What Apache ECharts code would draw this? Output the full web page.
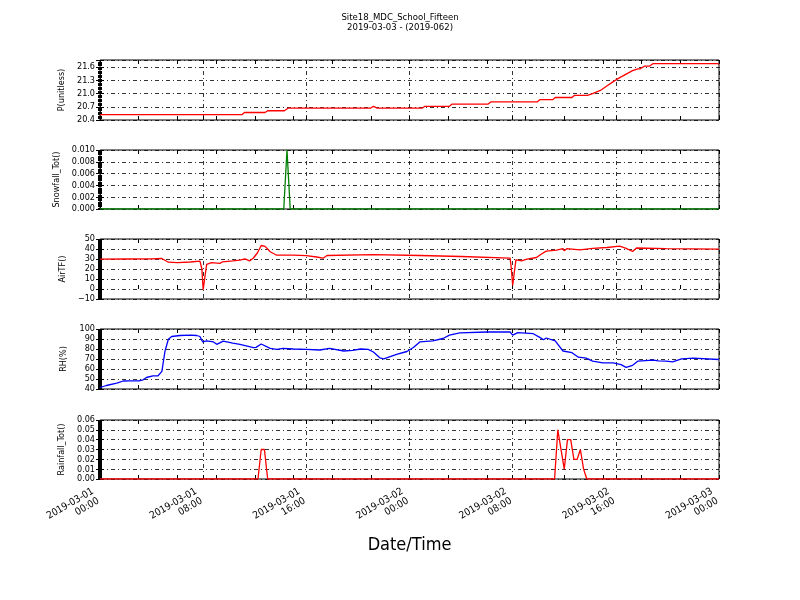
<!DOCTYPE html>
<html>
<head>
<meta charset="utf-8">
<script src="https://cdn.jsdelivr.net/npm/echarts@6/dist/echarts.min.js"></script>
<style>
  html, body { margin: 0; padding: 0; background: #fff; }
  #chart { width: 800px; height: 600px; }
</style>
</head>
<body>
<div id="chart"></div>
<script>
// hours since 2019-03-01 00:00
const xTickLabels = [
  "2019-03-01\n00:00", "2019-03-01\n08:00", "2019-03-01\n16:00",
  "2019-03-02\n00:00", "2019-03-02\n08:00", "2019-03-02\n16:00",
  "2019-03-03\n00:00"
];

const pData = [
  [0, 20.52], [11.0, 20.52], [11.2, 20.57], [12.8, 20.57], [13.0, 20.61], [14.3, 20.61],
  [14.6, 20.67], [21.0, 20.67], [21.2, 20.71], [21.5, 20.67], [25.0, 20.67], [25.2, 20.71],
  [27.1, 20.71], [27.3, 20.76], [30.1, 20.76], [30.3, 20.81], [33.9, 20.81], [34.1, 20.86],
  [35.1, 20.86], [35.3, 20.91], [36.6, 20.91], [36.8, 20.96], [37.8, 20.96], [38.2, 21.0],
  [38.8, 21.07], [39.3, 21.17], [39.8, 21.27], [40.3, 21.36], [40.8, 21.44], [41.3, 21.52],
  [41.7, 21.56], [41.9, 21.56], [42.2, 21.62], [42.6, 21.62], [42.9, 21.68], [47.9, 21.68],
  [48, 21.66]
];

const snowData = [[0, 0], [14.25, 0], [14.5, 0.01], [14.75, 0], [48, 0]];

const airData = [
  [0, 29.8], [2, 30], [4, 30.2], [4.8, 30.5], [5.3, 26.8], [6, 26.4], [7, 27], [7.75, 27.8],
  [7.9, 20], [8.0, -0.6], [8.27, 24.7], [8.65, 26.4], [9.3, 25.6], [9.5, 27.2], [10.3, 28.1],
  [10.85, 28.8], [11.24, 30.1], [11.6, 28.1], [11.9, 31], [12.2, 36], [12.5, 43.5], [12.8, 42.6],
  [13.2, 37.2], [13.7, 33.8], [15, 33.8], [16, 33.3], [16.8, 32], [17.3, 30.8], [17.6, 33.5],
  [21.2, 34.3], [24.8, 33.5], [28, 32.5], [31.8, 30.8], [31.9, 20], [32.0, 3.5], [32.25, 29.1],
  [32.7, 28.1], [33.1, 29.8], [33.85, 31.5], [34.2, 34.8], [34.6, 37.9], [35.4, 38.9],
  [35.9, 40.3], [36.0, 38.2], [36.2, 40.3], [37.2, 39.2], [38.2, 40.6], [39.3, 41.5],
  [40.3, 42.8], [40.8, 40.6], [41.3, 37.5], [41.6, 41.0], [43.9, 40.3], [48, 39.8]
];

const rhData = [
  [0, 41.5], [0.5, 43.5], [1.3, 45.8], [1.8, 48], [2.3, 48.1], [2.45, 49.2], [3.0, 48.1],
  [3.35, 49.2], [3.6, 51.5], [4.1, 53.2], [4.5, 53.2], [4.8, 57.6], [5.04, 77.9], [5.3, 89.8],
  [5.56, 92.5], [6.2, 93.5], [7.0, 93.8], [7.5, 93.5], [7.75, 92.5], [7.96, 87.1], [8.27, 88.1],
  [8.8, 87.1], [9.05, 84.7], [9.56, 87.8], [10.3, 85.8], [10.85, 84.7], [11.9, 81.4],
  [12.1, 81.6], [12.5, 85], [13.2, 80.7], [13.7, 79.7], [14.2, 80.7], [15.0, 80.0], [16, 79.7],
  [17.05, 79], [17.8, 80.7], [18.9, 78], [19.6, 78.6], [20.2, 80], [20.8, 79.7], [21.2, 77],
  [21.7, 71.2], [22.0, 70.2], [23, 74.6], [23.8, 77.5], [24.3, 81.5], [24.8, 87.1],
  [25.8, 88.1], [26.6, 90.5], [27.1, 93.9], [27.9, 96.2], [30, 97], [31.8, 97], [32.0, 93.9],
  [32.4, 96.4], [33.6, 95.3], [34.1, 91.6], [34.4, 89.2], [34.6, 91], [35.3, 88.1], [35.9, 78],
  [36.6, 76.3], [37.1, 71.8], [37.7, 70.8], [38.2, 67.8], [39, 66.1], [39.8, 66.1], [40.4, 64.4],
  [40.8, 61.7], [41.3, 63.7], [41.7, 67.8], [42.9, 68.8], [43.3, 68.1], [43.9, 67.8],
  [44.4, 67.1], [45.1, 70.2], [46, 70.8], [48, 69.5]
];

const rainData = [
  [0, 0], [12.25, 0], [12.5, 0.03], [12.75, 0.03], [13.0, 0], [35.25, 0], [35.5, 0.05],
  [36.0, 0.01], [36.25, 0.04], [36.5, 0.04], [36.75, 0.02], [37.0, 0.02], [37.25, 0.03],
  [37.5, 0.01], [37.75, 0], [48, 0]
];

const FONT = "DejaVu Sans Condensed, DejaVu Sans, sans-serif";
const GRID_DASH = [4, 3, 1, 3];

// one entry per subplot
const panels = [
  { name: "P(unitless)", data: pData, color: "#ff0000", min: 20.4, max: 21.76, interval: 0.3, digits: 1, gap: 32, top: 60, height: 60 },
  { name: "Snowfall_Tot()", data: snowData, color: "#008000", min: 0, max: 0.01, interval: 0.002, digits: 3, gap: 36, top: 150, height: 59 },
  { name: "AirTF()", data: airData, color: "#ff0000", min: -10, max: 50, interval: 10, digits: 0, gap: 32, top: 239, height: 60 },
  { name: "RH(%)", data: rhData, color: "#0000ff", min: 40, max: 100, interval: 10, digits: 0, gap: 28, top: 329, height: 60 },
  { name: "Rainfall_Tot()", data: rainData, color: "#ff0000", min: 0, max: 0.06, interval: 0.01, digits: 2, gap: 28, top: 420, height: 59 }
];

let chart = echarts.init(document.getElementById("chart"));

let grid = [], xAxis = [], yAxis = [], series = [];
let tick = { inside: true, length: 4, lineStyle: { color: "#000", width: 1 } };
let minor = { show: true, splitNumber: 10, length: 2, lineStyle: { color: "#000", width: 1 } };

panels.forEach((p, i) => {
  let last = i === panels.length - 1;
  grid.push({
    left: 100, width: 619, top: p.top, height: p.height,
    show: true, borderColor: "#000", borderWidth: 1
  });
  ["bottom", "top"].forEach((pos) => {
    xAxis.push({
      gridIndex: i, type: "value", min: 0, max: 48, interval: 8, position: pos,
      axisLine: { show: false },
      axisTick: tick,
      axisLabel: {
        show: last && pos === "bottom",
        rotate: 30, margin: 14, fontSize: 10, fontFamily: FONT, color: "#000",
        lineHeight: 11, padding: [0, 5, 0, 0],
        formatter: (v) => xTickLabels[Math.round(v / 8)]
      },
      splitLine: { show: pos === "bottom", lineStyle: { color: "#000", width: 0.8, type: GRID_DASH } },
      name: last && pos === "bottom" ? "Date/Time" : "",
      nameLocation: "middle", nameGap: 57,
      nameTextStyle: { fontSize: 18, fontFamily: FONT, color: "#000" }
    });
    // 3-hour minor ticks
    xAxis.push({
      gridIndex: i, type: "value", min: 0, max: 48, interval: 3, position: pos,
      axisLine: { show: false }, axisTick: tick,
      axisLabel: { show: false }, splitLine: { show: false }
    });
  });
  yAxis.push({
    gridIndex: i, type: "value", min: p.min, max: p.max, interval: p.interval, position: "left",
    axisLine: { show: false },
    axisTick: tick,
    minorTick: minor,
    axisLabel: {
      margin: 5, fontSize: 9, fontFamily: FONT, color: "#000",
      formatter: (v) => {
        // the P axis ends between ticks, no label on its top edge
        if (v > p.max - 1e-9 && Math.abs(Math.round((v - p.min) / p.interval) * p.interval - (v - p.min)) > 1e-6) return "";
        let s = Math.abs(v).toFixed(p.digits);
        return v < 0 ? "\u2212" + s : s;
      }
    },
    splitLine: { show: true, lineStyle: { color: "#000", width: 0.8, type: GRID_DASH } },
    name: p.name, nameLocation: "middle", nameGap: p.gap, nameRotate: 90,
    nameTextStyle: { fontSize: 9, fontFamily: FONT, color: "#000" }
  });
  yAxis.push({
    gridIndex: i, type: "value", min: p.min, max: p.max, interval: p.interval, position: "right",
    axisLine: { show: false }, axisTick: tick,
    minorTick: minor,
    axisLabel: { show: false }, splitLine: { show: false }
  });
  series.push({
    type: "line", xAxisIndex: i * 4, yAxisIndex: i * 2,
    data: p.data, showSymbol: false, symbol: "none",
    lineStyle: { color: p.color, width: 1.3 },
    itemStyle: { color: p.color },
    clip: true
  });
});

let option = {
  animation: false,
  backgroundColor: "#fff",
  title: {
    text: "Site18_MDC_School_Fifteen\n2019-03-03 - (2019-062)",
    left: "center", top: 8,
    textStyle: { fontSize: 9.5, fontWeight: "normal", fontFamily: FONT, color: "#000", lineHeight: 9.5 }
  },
  grid, xAxis, yAxis, series
};

chart.setOption(option);
window.addEventListener("resize", () => {
  chart.resize();
});
</script>
</body>
</html>
